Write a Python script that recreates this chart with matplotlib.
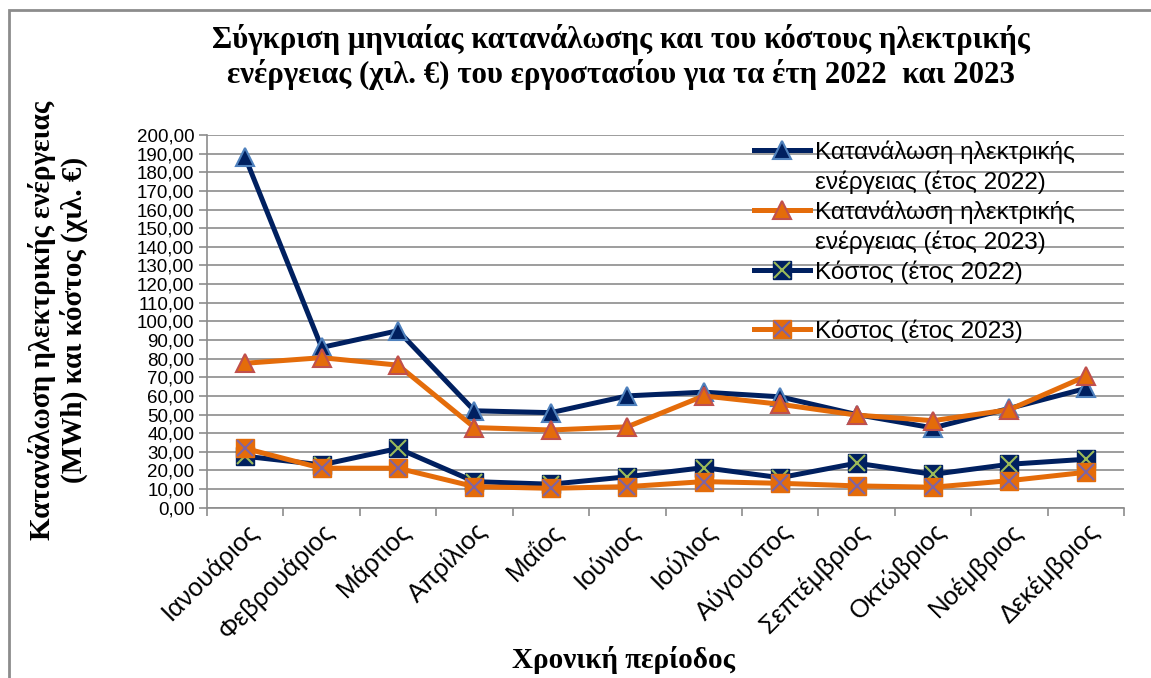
import matplotlib
matplotlib.use("Agg")
import numpy as np
import matplotlib.pyplot as plt
from matplotlib.lines import Line2D
from matplotlib.patches import Rectangle
from matplotlib.ticker import FixedLocator

plt.rcParams["font.family"] = ["Liberation Sans", "DejaVu Sans"]

# δεδομένα
months = ["Ιανουάριος", "Φεβρουάριος", "Μάρτιος", "Απρίλιος", "Μαΐος", "Ιούνιος",
          "Ιούλιος", "Αύγουστος", "Σεπτέμβριος", "Οκτώβριος", "Νοέμβριος", "Δεκέμβριος"]
cons_2022 = [188.0, 86.0, 95.0, 52.0, 51.0, 60.0, 62.0, 59.5, 50.0, 42.8, 53.3, 64.0]
cons_2023 = [77.5, 80.5, 76.5, 43.0, 41.7, 43.4, 60.0, 55.5, 49.7, 46.7, 52.6, 70.5]
cost_2022 = [27.6, 23.0, 31.8, 14.0, 12.6, 16.6, 21.5, 16.1, 23.9, 17.9, 23.3, 26.0]
cost_2023 = [31.8, 21.2, 21.2, 11.3, 10.4, 11.3, 14.0, 13.1, 11.7, 11.0, 14.5, 19.0]
labels = ["Κατανάλωση ηλεκτρικής", "ενέργειας (έτος 2022)",
          "Κατανάλωση ηλεκτρικής", "ενέργειας (έτος 2023)",
          "Κόστος (έτος 2022)", "", "Κόστος (έτος 2023)"]

title = ("Σύγκριση μηνιαίας κατανάλωσης και του κόστους ηλεκτρικής\n"
         "ενέργειας (χιλ. €) του εργοστασίου για τα έτη 2022  και 2023")
ylabel = "Κατανάλωση ηλεκτρικής ενέργειας\n(MWh) και κόστος (χιλ. €)"
xlabel = "Χρονική περίοδος"

NAVY = "#002060"
ORANGE = "#E46C0A"
GRID = "#8C8C8C"
SERIF = ["Liberation Serif", "DejaVu Serif"]

W, H = 1151, 678
fig = plt.figure(figsize=(W / 100, H / 100), dpi=100)
ax = fig.add_axes([207 / W, 1 - 507.7 / H, (1124 - 207) / W, (507.7 - 135) / H])

x = np.arange(len(months))
lw = 3.6

# κατανάλωση
ax.plot(x, cons_2022, color=NAVY, lw=lw, marker="^", ms=13,
        mfc=NAVY, mec="#4F81BD", mew=1.5, zorder=4)
ax.plot(x, cons_2023, color=ORANGE, lw=lw, marker="^", ms=13,
        mfc=ORANGE, mec="#C0504D", mew=1.5, zorder=5)

# κόστος
ax.plot(x, cost_2022, color=NAVY, lw=lw, marker="s", ms=13,
        mfc=NAVY, mec=NAVY, zorder=4)
ax.plot(x, cost_2022, ls="none", marker="x", ms=12, mec="#9BBB59", mew=1.5, zorder=4)
ax.plot(x, cost_2023, color=ORANGE, lw=lw, marker="s", ms=13,
        mfc=ORANGE, mec=ORANGE, zorder=5)
ax.plot(x, cost_2023, ls="none", marker="x", ms=12, mec="#8064A2", mew=1.5, zorder=5)

# άξονες
ax.set_xlim(-0.5, len(months) - 0.5)
ax.set_ylim(0, 200)
ax.set_yticks(np.arange(0, 201, 10))
ax.set_yticklabels([f"{v:.2f}".replace(".", ",") for v in np.arange(0, 201, 10)],
                   fontsize=13.5)
ax.yaxis.grid(True, color=GRID, lw=1.2)
ax.set_axisbelow(True)
ax.set_xticks(x)
ax.set_xticklabels(months, rotation=45, ha="right", rotation_mode="anchor", fontsize=18.5)
ax.xaxis.set_minor_locator(FixedLocator(np.arange(-0.5, len(months), 1)))
ax.tick_params(axis="x", which="major", length=0, pad=8)
ax.tick_params(axis="x", which="minor", length=6, color=GRID, width=1.2)
ax.tick_params(axis="y", length=6, color=GRID, width=1.2, pad=3)
for s in ["top", "right"]:
    ax.spines[s].set_visible(False)
for s in ["left", "bottom"]:
    ax.spines[s].set_color(GRID)
    ax.spines[s].set_linewidth(1.2)

# υπόμνημα
h1 = Line2D([], [], color=NAVY, lw=lw, marker="^", ms=13, mfc=NAVY, mec="#4F81BD", mew=1.5)
h2 = Line2D([], [], color=ORANGE, lw=lw, marker="^", ms=13, mfc=ORANGE, mec="#C0504D", mew=1.5)
h3 = (Line2D([], [], color=NAVY, lw=lw, marker="s", ms=13, mfc=NAVY, mec=NAVY),
      Line2D([], [], ls="none", marker="x", ms=12, mec="#9BBB59", mew=1.5))
h4 = (Line2D([], [], color=ORANGE, lw=lw, marker="s", ms=13, mfc=ORANGE, mec=ORANGE),
      Line2D([], [], ls="none", marker="x", ms=12, mec="#8064A2", mew=1.5))
blank = Line2D([], [], ls="none")
ax.legend([h1, blank, h2, blank, h3, blank, h4], labels,
          loc="upper left", bbox_to_anchor=(742 / W, 1 - 128 / H),
          bbox_transform=fig.transFigure, frameon=False, fontsize=17.5,
          handlelength=2.3, handletextpad=0.2, labelspacing=0.27, borderpad=0)

# τίτλοι
fig.text(621 / W, 1 - 57 / H, title, ha="center", va="center", fontsize=22.2,
         fontweight="bold", family=SERIF, linespacing=1.2)
fig.text(58 / W, 1 - 320 / H, ylabel, ha="center", va="center", rotation=90,
         fontsize=21, fontweight="bold", family=SERIF, linespacing=1.15)
fig.text(624 / W, 1 - 660 / H, xlabel, ha="center", va="center", fontsize=21,
         fontweight="bold", family=SERIF)

# περίγραμμα
fig.patches.append(Rectangle((8.5 / W, -0.1), 1.2, 1 - 10 / H + 0.1, transform=fig.transFigure,
                             fill=False, edgecolor="#8C8C8C", lw=2))

fig.savefig("out.png", dpi=100)
